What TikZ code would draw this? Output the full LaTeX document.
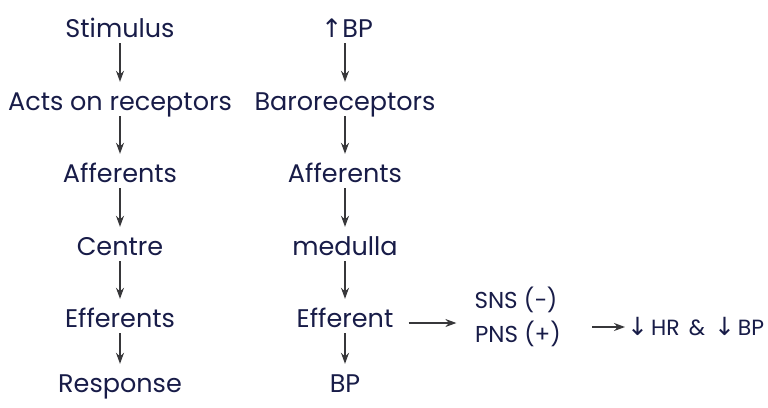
\documentclass[tikz,border=0pt]{standalone}
\usepackage{fontspec}
\setmainfont{Poppins}
\newfontfamily\symfont{DejaVu Sans}
\usetikzlibrary{arrows.meta,calc}
\definecolor{ink}{RGB}{24,28,72}
\definecolor{arrowgray}{RGB}{55,55,58}
\tikzset{
  lbl/.style={text=ink, font=\fontsize{25.5}{30}\selectfont, text height=17pt, text depth=5pt, inner sep=1pt, anchor=base},
  sml/.style={text=ink, font=\fontsize{23}{27}\selectfont, text height=16pt, text depth=5pt, inner sep=1pt, anchor=base},
  tiny/.style={text=ink, font=\fontsize{22}{26}\selectfont, text height=15pt, text depth=5pt, inner sep=1pt, anchor=base west},
  arr/.style={draw=arrowgray, line width=1.3pt, -{Stealth[length=11pt,width=8pt]}, shorten >=10pt},
}
\newcommand{\dnarr}{{\symfont\fontsize{25}{25}\selectfont↓}}
\begin{document}
\begin{tikzpicture}[x=1pt,y=-1pt]
\useasboundingbox[fill=white] (0,0) rectangle (768,407);
% column 1
\node[lbl] (stim) at (120,37) {Stimulus};
\node[lbl] (acts) at (120,110) {Acts on receptors};
\node[lbl] (aff1) at (120,182) {Afferents};
\node[lbl] (cen)  at (120,255) {Centre};
\node[lbl] (eff1) at (120,327) {Efferents};
\node[lbl] (resp) at (120,392) {Response};
% column 2
\node[lbl] (bp0)  at (347,37) {{\symfont↑}BP};
\node[lbl] (baro) at (345,110) {Baroreceptors};
\node[lbl] (aff2) at (345,182) {Afferents};
\node[lbl] (med)  at (345,255) {medulla};
\node[lbl] (eff2) at (345,327) {Efferent};
\node[lbl] (bp1)  at (345,392) {BP};
% branch
\node[sml] (sns) at (516,308) {SNS (−)};
\node[sml] (pns) at (518,342) {PNS (+)};
\node[tiny] (res) at (626,335) {\dnarr\hspace{3pt}HR\hspace{9pt}\&\hspace{9pt}\dnarr\hspace{3pt}BP};
% arrows column 1
\draw[arr] (stim.south) -- (acts.north);
\draw[arr] (acts.south) -- (aff1.north);
\draw[arr] (aff1.south) -- (cen.north);
\draw[arr] (cen.south) -- (eff1.north);
\draw[arr] (eff1.south) -- (resp.north);
% arrows column 2
\draw[arr] (bp0.south -| baro.south) -- (baro.north);
\draw[arr] (baro.south) -- (aff2.north);
\draw[arr] (aff2.south) -- (med.north);
\draw[arr] (med.south) -- (eff2.north);
\draw[arr] (eff2.south) -- (bp1.north);
% horizontal arrows
\draw[arr, shorten <=14pt, shorten >=17pt] ([yshift=-2pt]eff2.east) -- ([yshift=-2pt]eff2.east -| sns.west);
\draw[arr, shorten <=30pt, shorten >=1pt] ([yshift=3pt]res.west -| pns.east) -- ([yshift=3pt]res.west);
\end{tikzpicture}
\end{document}
